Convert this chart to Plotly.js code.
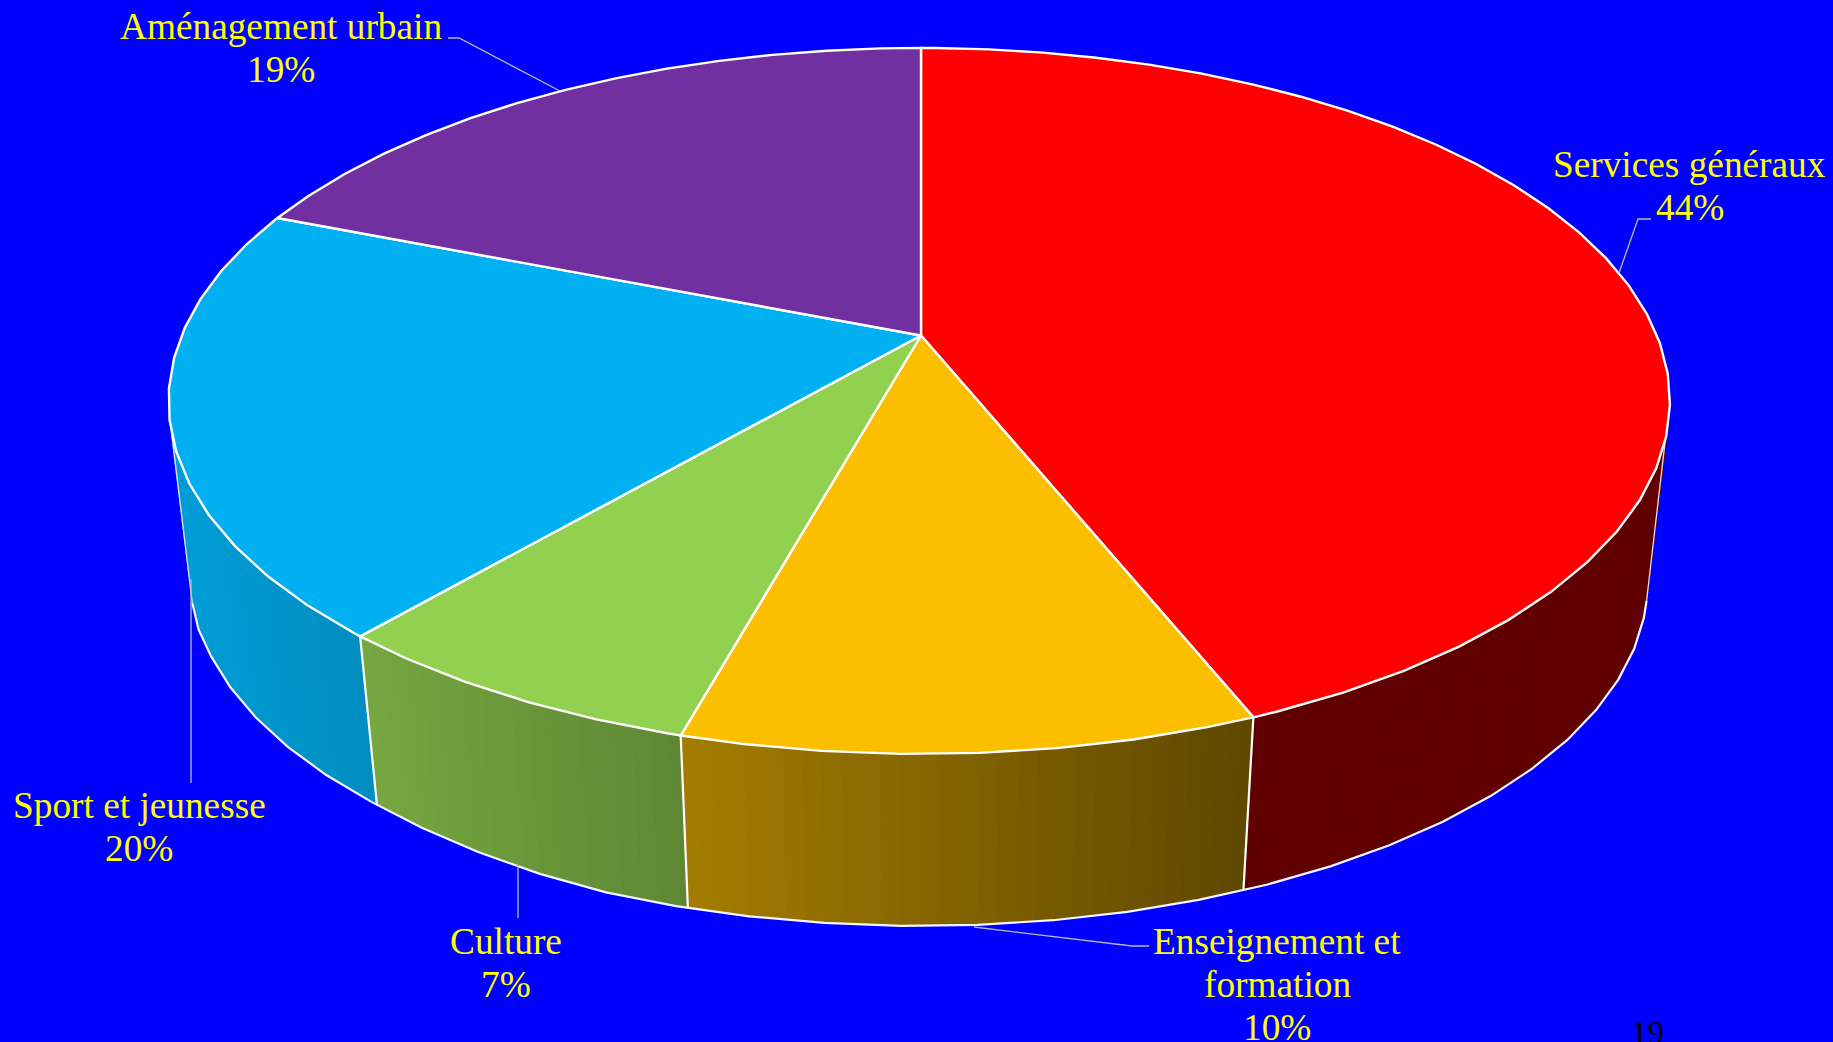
<!DOCTYPE html>
<html><head><meta charset="utf-8">
<script src="https://cdn.plot.ly/plotly-3.0.1.min.js"></script>
<style>html,body{margin:0;padding:0;background:#0000ff;overflow:hidden}#chart{width:1833px;height:1042px}</style>
</head><body><div id="chart"></div>
<script>
// ---- data (clockwise from 12 o'clock) ----
const categories = ["Services généraux","Enseignement et formation","Culture","Sport et jeunesse","Aménagement urbain"];
const shares = [43.9, 10.4, 7.0, 19.7, 19.0];
const sliceColors = [[255,0,0],[252,191,0],[146,208,80],[0,176,240],[112,48,160]];
const labelLines = [["Services généraux"],["Enseignement et","formation"],["Culture"],["Sport et jeunesse"],["Aménagement urbain"]];
const labelCenters = [1689.5,1277,506,139,280.5];
const labelBaselines = [175.5,953,953,817,38];
const leaders = [
  [[1651,1638,1619],[219,219,273]],
  [[974,1132,1149],[927,946,946]],
  [[518,518],[865,918]],
  [[191,191],[579,783]],
  [[448,459,560],[38,38,91]]
];
// ---- perspective model ----
const W=1833,H=1042,CX=921,CY=335.5,RL=739.5,RR=736,B=278.7,C=-0.1854,DROP=520,S=0.97;
function topPt(t){const r=t*Math.PI/180,u=Math.sin(r),v=-Math.cos(r),d=1+C*v;return [CX+(u<0?RL:RR)*u/d,(CY+B*v)/d];}
function clamp01(a){return Math.max(0,Math.min(1,a));}
function botPt(t){const p=topPt(t),x=CX+S*(p[0]-CX);return [x,DROP+S*(p[1]-CY)-7*clamp01((589-x)/210)*clamp01((x-190)/20)];}
function facets(a,b){const o=[a];for(let k=Math.ceil((a-1.3)/5);5*k+1.3<b;k++){const t=5*k+1.3;if(t>a+.01)o.push(t);}o.push(b);return o;}
function shade(col,x){const k=Math.max(0.375,0.65-(x-682)*0.000485);return `rgb(${col.map(c=>Math.round(c*k)).join(',')})`;}
const traces=[];
function poly(pts,fill,line,w){
  traces.push({type:'scatter',mode:w?'lines':'none',x:pts.map(p=>p[0]),y:pts.map(p=>p[1]),
    fill:fill?'toself':'none',fillcolor:fill||undefined,line:{color:line||fill||'#fff',width:w||0,simplify:false},hoverinfo:'skip'});
}
function lerp(a,b,f){return [a[0]+(b[0]-a[0])*f,a[1]+(b[1]-a[1])*f];}
// slice bounds
const bounds=[0];shares.forEach(s=>bounds.push(bounds[bounds.length-1]+s*3.6));
const TR=107,BR=103.5,TL=254,BL=256;
// walls
[0,3,2,1].forEach(i=>{
  const a=bounds[i],b=bounds[i+1],col=sliceColors[i];
  const tA=Math.max(a,TR),tB=Math.min(b,TL),bA=Math.max(a,BR),bB=Math.min(b,BL);
  const base=[...facets(tA,tB).map(topPt),...facets(bA,bB).reverse().map(botPt)];
  poly(base,shade(col,i===3?190:i===0?1500:(topPt(tA)[0]+topPt(tB)[0])/2));
  const th=facets(bA,bB);
  for(let j=0;j<th.length-1;j++){
    const t0=topPt(th[j]),t1=topPt(th[j+1]),b0=botPt(th[j]),b1=botPt(th[j+1]);
    for(let n=0;n<4;n++){
      const f0=n/4,f1=(n+1)/4,p=[lerp(t0,t1,f0),lerp(t0,t1,f1),lerp(b0,b1,f1),lerp(b0,b1,f0)];
      const c=shade(col,(p[0][0]+p[1][0]+p[2][0]+p[3][0])/4);
      poly([...p,p[0]],c,c,1);
    }
  }
});
// wall outlines
poly(facets(BR,BL).map(botPt),null,'#f4f4ff',2.2);
poly([topPt(TR),botPt(BR)],null,'#e8e0e8',1.3);
poly([topPt(TL),botPt(BL)],null,'#e8e0f0',1.3);
[1,2,3].forEach(i=>poly([topPt(bounds[i]),botPt(bounds[i])],null,'#ffffff',2.2));
// top faces
shares.forEach((s,i)=>{
  const pts=[[CX,CY],...facets(bounds[i],bounds[i+1]).map(topPt),[CX,CY]];
  poly(pts,`rgb(${sliceColors[i].join(',')})`,'#ffffff',2.4);
});
// leader lines
leaders.forEach(l=>traces.push({type:'scatter',mode:'lines',x:l[0],y:l[1],line:{color:'#b8b8c0',width:1.3},hoverinfo:'skip'}));
// labels
const FS=37.3,LH=43;
const annotations=[];
function label(text,x,base,size,color){annotations.push({text,x,y:base-0.3*size,xref:'x',yref:'y',xanchor:'center',yanchor:'middle',showarrow:false,borderpad:0,
  font:{family:'"Liberation Serif","Times New Roman",serif',size,color}});}
categories.forEach((c,i)=>{
  const lines=[...labelLines[i],Math.round(shares[i])+'%'];
  lines.forEach((t,k)=>label(t,labelCenters[i],labelBaselines[i]+k*LH,FS,'#ffff00'));
});
label('19',1647,1043,33,'#000000');
const layout={width:W,height:H,margin:{l:0,r:0,t:0,b:0,pad:0},paper_bgcolor:'#0000ff',plot_bgcolor:'#0000ff',showlegend:false,hovermode:false,
  xaxis:{range:[0,W],visible:false,fixedrange:true},yaxis:{range:[H,0],visible:false,fixedrange:true},annotations};
Plotly.newPlot('chart',traces,layout,{displayModeBar:false,staticPlot:true});
</script></body></html>
